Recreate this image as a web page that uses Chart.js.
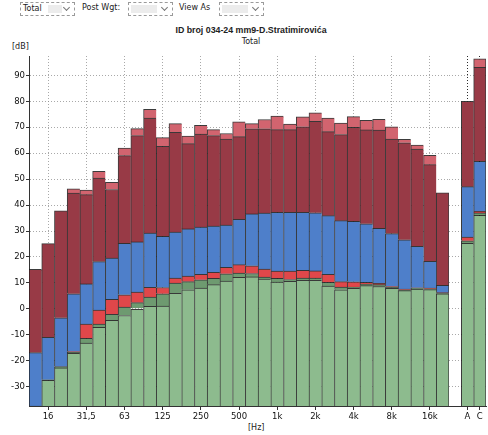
<!DOCTYPE html>
<html>
<head>
<meta charset="utf-8">
<script src="https://cdn.jsdelivr.net/npm/chart.js@4.4.1/dist/chart.umd.min.js"></script>
<style>
  body { margin: 0; background: #fff; }
  #page { position: relative; width: 488px; height: 435px; overflow: hidden; font-family: "DejaVu Sans", sans-serif; color: #222; }
  canvas { position: absolute; top: 0; }
  .sel { position: absolute; top: 2px; height: 12px; border: 1px dashed #9a9a9a; font-size: 8px; line-height: 12px; padding-left: 2px; box-sizing: content-box; }
  .sel .fill { position: absolute; top: 2px; height: 8px; background: #ececec; }
  .chev { position: absolute; right: 5px; top: 2px; width: 4px; height: 4px; border-right: 1px solid #777; border-bottom: 1px solid #777; transform: rotate(45deg); }
  .lbl { position: absolute; top: 3px; font-size: 8px; }
  .txt { position: absolute; white-space: nowrap; }
</style>
</head>
<body>
<div id="page">
  <div class="sel" style="left:20px;width:51px">Total<span class="fill" style="left:27px;width:14px"></span><span class="chev"></span></div>
  <div class="lbl" style="left:82px">Post Wgt:</div>
  <div class="sel" style="left:128px;width:41px"><span class="fill" style="left:2px;width:26px"></span><span class="chev"></span></div>
  <div class="lbl" style="left:179px">View As</div>
  <div class="sel" style="left:219px;width:41px"><span class="fill" style="left:2px;width:26px"></span><span class="chev"></span></div>

  <div class="txt" style="left:0;width:502px;top:25px;text-align:center;font:bold 8.8px 'Liberation Sans',sans-serif;">ID broj 034-24 mm9-D.Stratimirovića</div>
  <div class="txt" style="left:0;width:502px;top:37px;text-align:center;font:8px 'DejaVu Sans',sans-serif;">Total</div>
  <div class="txt" style="left:12px;top:42px;font:8px 'DejaVu Sans',sans-serif;">[dB]</div>
  <div class="txt" style="left:248px;top:423px;font:8px 'DejaVu Sans',sans-serif;">[Hz]</div>

  <canvas id="main" width="449" height="435" style="left:0"></canvas>
  <canvas id="tot" width="39" height="435" style="left:449px"></canvas>
</div>
<script>
// third-octave bands 12.5 Hz .. 20 kHz
const freqs = ["12,5","16","20","25","31,5","40","50","63","80","100","125","160","200","250","315","400","500","630","800","1k","1,25k","1,6k","2k","2,5k","3,15k","4k","5k","6,3k","8k","10k","12,5k","16k","20k"];
const octaveTicks = ["16","31,5","63","125","250","500","1k","2k","4k","8k","16k"];
const totals = ["", "A", "C"];

// top of each coloured band, in dB
const greenTop     = [-40, -27.6, -22.8, -17.2, -13.2, -7.2, -4.5, -2.6, 0.0, 0.9, 1.0, 6.0, 7.3, 8.0, 9.3, 10.7, 12.1, 12.3, 11.5, 10.3, 10.6, 11.0, 11.0, 8.8, 7.3, 7.9, 8.9, 8.6, 7.9, 7.0, 7.6, 7.4, 5.8];
const darkGreenTop = [-40, -27.4, -22.3, -16.7, -11.4, -5.9, -2.1, 0.7, 2.4, 4.5, 5.8, 9.9, 10.5, 11.2, 11.7, 13.5, 13.8, 13.6, 12.2, 11.7, 11.3, 11.8, 11.8, 10.2, 8.4, 8.4, 9.5, 9.3, 8.3, 7.3, 7.9, 7.7, 6.0];
const redTop       = [-40, -27.4, -22.3, -16.5, -5.9, -0.5, 3.6, 5.4, 6.4, 8.3, 8.2, 11.8, 12.6, 13.3, 14.1, 16.0, 17.0, 16.6, 15.3, 14.5, 14.5, 14.8, 14.6, 13.3, 10.5, 10.4, 10.2, 9.8, 8.6, 7.6, 8.1, 8.0, 6.2];
const blueTop      = [-16.9, -11.0, -3.5, 5.8, 9.6, 18.2, 19.6, 25.2, 25.8, 29.2, 27.9, 29.6, 30.8, 31.5, 31.9, 32.3, 34.5, 36.6, 36.9, 37.2, 37.2, 37.2, 37.0, 35.9, 34.0, 33.7, 32.8, 31.0, 29.0, 26.6, 24.1, 18.3, 9.0];
const maroonTop    = [15.2, 25.1, 37.8, 44.6, 44.0, 50.4, 46.0, 59.1, 66.8, 73.6, 62.7, 68.1, 63.7, 67.4, 66.8, 65.5, 66.4, 69.4, 69.4, 69.1, 69.1, 70.2, 72.3, 68.3, 67.2, 70.0, 69.0, 68.9, 65.5, 64.0, 61.6, 55.6, 44.7];
const pinkTop      = [15.2, 25.1, 37.8, 46.3, 45.8, 53.0, 48.8, 62.0, 69.5, 76.9, 66.0, 71.4, 66.6, 70.8, 69.1, 67.6, 72.1, 71.4, 73.0, 74.3, 71.2, 74.0, 75.6, 73.6, 71.6, 74.1, 72.7, 73.1, 70.2, 65.4, 63.1, 59.2, 44.7];

// A and C weighted totals (first slot is the empty gap)
const greenTot     = [null, 25.2, 36.0];
const darkGreenTot = [null, 26.2, 37.0];
const redTot       = [null, 27.7, 37.6];
const blueTot      = [null, 47.1, 56.9];
const maroonTot    = [null, 80.0, 93.1];
const pinkTot      = [null, 80.0, 96.4];

const Y_MIN = -37.5, Y_MAX = 97.5;
const LINE = "rgba(25,25,25,0.85)";
const GRID = "rgba(140,140,140,0.75)";

function layerSets(tops, n) {
  const colors = ["#8dbb8e", "#6e9a70", "#e0474a", "#4e7fca", "#983a46", "#d2646f"];
  return tops.map((hi, k) => ({
    data: hi.map((v, i) => v === null ? null : [k === 0 ? Y_MIN : tops[k - 1][i], v]),
    backgroundColor: colors[k],
    borderColor: LINE,
    borderSkipped: false,
    borderWidth: (c) => ({ top: 1, left: 1, bottom: 0, right: c.dataIndex === n - 1 ? 1 : 0 }),
    barPercentage: 1,
    categoryPercentage: 1,
  }));
}

const tickFont = { family: "DejaVu Sans", size: 8.5 };

function yScale(showTicks) {
  return {
    min: Y_MIN, max: Y_MAX,
    ticks: { display: showTicks, stepSize: 10, includeBounds: false, color: "#111", font: tickFont, padding: 1 },
    grid: { color: GRID, tickColor: "#333", tickLength: showTicks ? 3 : 0, drawTicks: showTicks },
    border: { display: showTicks, color: "#333", dash: [1, 2] },
    afterFit: (s) => { s.width = showTicks ? 29 : 0; },
  };
}

new Chart(document.getElementById("main"), {
  type: "bar",
  data: { labels: freqs, datasets: layerSets([greenTop, darkGreenTop, redTop, blueTop, maroonTop, pinkTop], freqs.length) },
  options: {
    responsive: false, animation: false,
    layout: { padding: { top: 56, left: 0, right: 0, bottom: 0 } },
    plugins: { legend: { display: false }, tooltip: { enabled: false } },
    scales: {
      x: {
        stacked: true,
        grid: {
          offset: false,
          color: (c) => octaveTicks.includes(freqs[c.index]) ? GRID : "transparent",
          tickColor: (c) => octaveTicks.includes(freqs[c.index]) ? "#333" : "transparent",
          tickLength: 4,
        },
        border: { color: "#333", dash: [1, 2] },
        ticks: {
          autoSkip: false, maxRotation: 0, color: "#111", font: tickFont, padding: 2,
          callback: (v, i) => octaveTicks.includes(freqs[i]) ? freqs[i] : "",
        },
        afterFit: (s) => { s.height = 29; },
      },
      y: yScale(true),
    },
  },
});

new Chart(document.getElementById("tot"), {
  type: "bar",
  data: { labels: totals, datasets: layerSets([greenTot, darkGreenTot, redTot, blueTot, maroonTot, pinkTot], totals.length) },
  options: {
    responsive: false, animation: false,
    layout: { padding: { top: 56, left: 0, right: 2, bottom: 0 } },
    plugins: { legend: { display: false }, tooltip: { enabled: false } },
    scales: {
      x: {
        stacked: true,
        grid: {
          offset: false,
          color: (c) => c.index > 0 ? "rgba(20,20,20,0.9)" : "transparent",
          tickColor: (c) => c.index > 0 ? "#333" : "transparent",
          tickLength: 4,
        },
        border: { color: "#333", dash: [1, 2] },
        ticks: { autoSkip: false, maxRotation: 0, color: "#111", font: tickFont, padding: 2 },
        afterFit: (s) => { s.height = 29; },
      },
      y: yScale(false),
    },
  },
});
</script>
</body>
</html>
